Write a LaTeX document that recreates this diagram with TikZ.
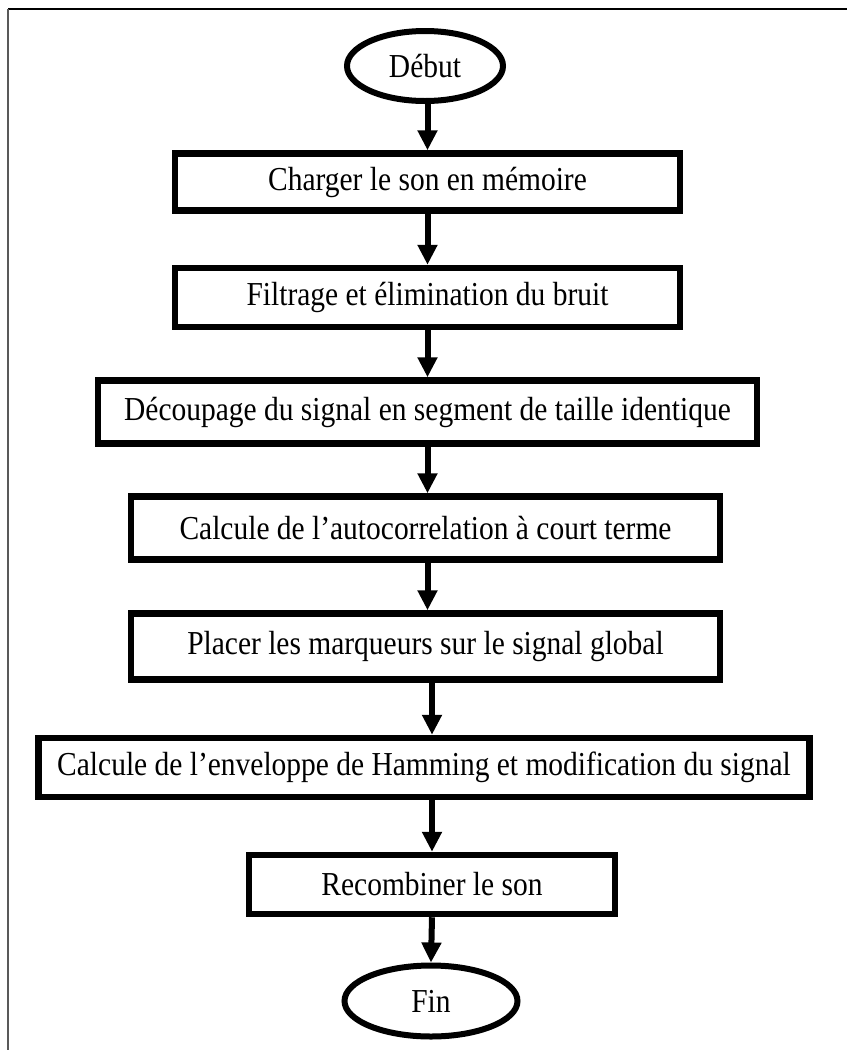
\documentclass[tikz,border=0pt]{standalone}
\usepackage{fontspec}
\setmainfont[FakeStretch=0.88]{Liberation Serif}
\usetikzlibrary{shapes.geometric,arrows.meta}
\begin{document}
\begin{tikzpicture}[x=1pt,y=-1pt,
  every node/.style={font=\fontsize{33.5}{38}\selectfont},
  stepbox/.style={draw,rectangle,line width=6.5pt,inner sep=0pt},
  term/.style={draw,ellipse,line width=6pt,inner sep=0pt},
  arr/.style={line width=6pt,-{Triangle[width=19pt,length=20pt]}}]
\useasboundingbox (0,0) rectangle (847,1050);
% page frame (top and left only)
\draw[black,line width=1.2pt] (8,9) -- (847,9);
\draw[gray!70!black,line width=2pt] (8,9) -- (8,1050);

% terminals and processing steps
\node[term,minimum width=156pt,minimum height=70pt] (d) at (425,66) {Début};
\node[stepbox,minimum width=505pt,minimum height=57pt] (c1) at (427.5,182) {Charger le son en mémoire};
\node[stepbox,minimum width=505pt,minimum height=59pt] (c2) at (427.5,297.5) {Filtrage et élimination du bruit};
\node[stepbox,minimum width=659pt,minimum height=63pt] (c3) at (427.5,412) {Découpage du signal en segment de taille identique};
\node[stepbox,minimum width=589pt,minimum height=63pt] (c4) at (425.5,528) {Calcule de l’autocorrelation à court terme};
\node[stepbox,minimum width=589pt,minimum height=66pt] (c5) at (425.5,646.5) {Placer les marqueurs sur le signal global};
\node[stepbox,minimum width=771pt,minimum height=59pt] (c6) at (424,767.5) {Calcule de l’enveloppe de Hamming et modification du signal};
\node[stepbox,minimum width=366pt,minimum height=59pt] (c7) at (432,884.5) {Recombiner le son};
\node[term,minimum width=173pt,minimum height=71pt] (f) at (431,1001) {Fin};

% flow arrows
\draw[arr] (d.south -| c1.north) -- (c1.north);
\draw[arr] (c1.south) -- (c2.north);
\draw[arr] (c2.south) -- (c3.north);
\draw[arr] (c3.south) -- (c3.south |- c4.north);
\draw[arr] (c3.south |- c4.south) -- (c3.south |- c5.north);
\draw[arr] (c5.south -| c7.north) -- (c7.north |- c6.north);
\draw[arr] (c6.south -| c7.north) -- (c7.north);
\draw[arr] (c7.south) -- (f.north);
\end{tikzpicture}
\end{document}
